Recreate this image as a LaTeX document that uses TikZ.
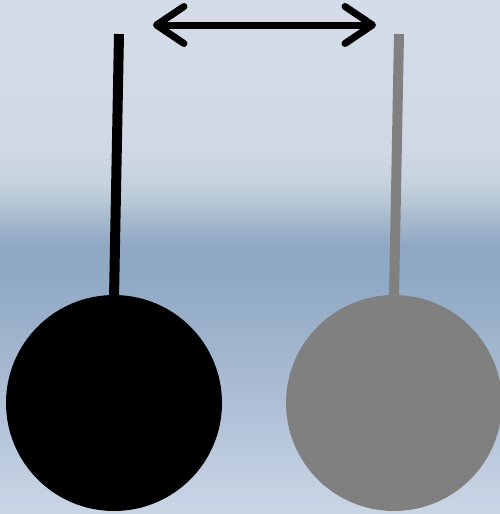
\documentclass[tikz,border=0pt]{standalone}
\usepackage{tikz}
\usetikzlibrary{arrows.meta}
\definecolor{SkyTop}{HTML}{D4DCE8}
\definecolor{SkyHigh}{HTML}{D0D8E5}
\definecolor{SkyPale}{HTML}{C4D2DC}
\definecolor{SkyDeep}{HTML}{8FA7C3}
\definecolor{SkyBand}{HTML}{8FA9C4}
\definecolor{SkyMid}{HTML}{AEBED5}
\definecolor{SkyLow}{HTML}{CAD6E6}
\definecolor{BobGrey}{HTML}{808080}
\tikzset{
  bob/.style={circle,minimum size=4.32cm,inner sep=0pt,draw=none},
  rod/.style={line width=0.2cm,line cap=butt},
  swap/.style={line width=0.14cm,{Straight Barb[length=0.55cm,width=0.74cm,round]}-{Straight Barb[length=0.55cm,width=0.74cm,round]}},
  band/.style={draw=none},
}
\begin{document}
\begin{tikzpicture}[x=0.02cm,y=-0.02cm]
\useasboundingbox (0,0) rectangle (500,514);
% Sky backdrop in horizontal bands.
\shade[band,top color=SkyTop,bottom color=SkyHigh] (0,0) rectangle (500,151);
\shade[band,top color=SkyHigh,bottom color=SkyPale] (0,150) rectangle (500,186);
\shade[band,top color=SkyPale,bottom color=SkyDeep] (0,185) rectangle (500,246);
\shade[band,top color=SkyDeep,bottom color=SkyBand] (0,245) rectangle (500,276);
\shade[band,top color=SkyBand,bottom color=SkyMid] (0,275) rectangle (500,401);
\shade[band,top color=SkyMid,bottom color=SkyLow] (0,400) rectangle (500,514);
% Two pendulums.
\coordinate (pivL) at (119,34);
\coordinate (pivR) at (399,34);
\node[bob,fill=black] (bobL) at (114,403) {};
\node[bob,fill=BobGrey] (bobR) at (394,403) {};
\draw[rod,draw=black] (pivL) -- ([yshift=-2pt]bobL.north);
\draw[rod,draw=BobGrey] (pivR) -- ([yshift=-2pt]bobR.north);
% Exchange between them.
\coordinate (swL) at (153,25);
\coordinate (swR) at (376,25);
\draw[swap] (swL) -- (swR);
\end{tikzpicture}
\end{document}
